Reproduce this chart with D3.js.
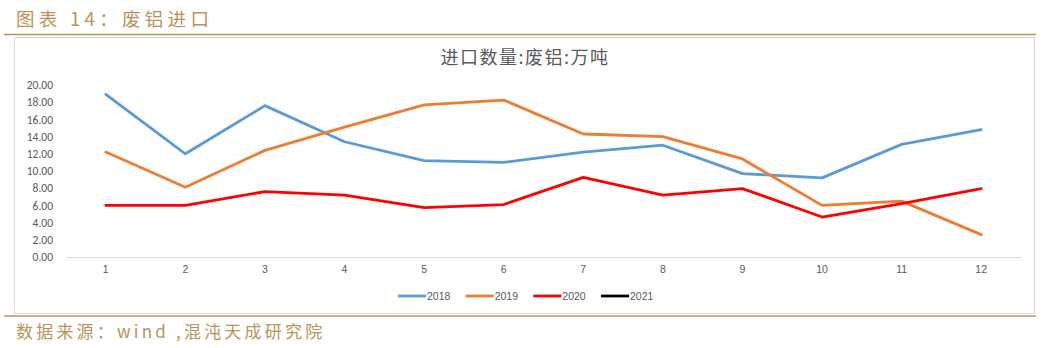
<!DOCTYPE html>
<html><head><meta charset="utf-8">
<script src="https://cdn.jsdelivr.net/npm/d3@7"></script>
<style>
html,body{margin:0;padding:0;background:#fff;}
svg{display:block;}
</style></head>
<body>
<svg id="c" width="1050" height="348"></svg>
<script>
const months = ["1","2","3","4","5","6","7","8","9","10","11","12"];
const yTicks = [0,2,4,6,8,10,12,14,16,18,20];
const seriesNames = ["2018","2019","2020","2021"];
const seriesColors = ["#5b9bd5","#ed7d31","#ff0000","#000000"];
const v2018 = [18.9,12.0,17.6,13.4,11.2,11.0,12.2,13.0,9.7,9.2,13.1,14.8];
const v2019 = [12.2,8.1,12.4,15.1,17.7,18.25,14.3,14.0,11.4,6.0,6.5,2.6];
const v2020 = [6.0,6.0,7.6,7.2,5.75,6.1,9.25,7.2,7.95,4.65,6.2,7.95];
const v2021 = [];
const headerText = "图表 14：废铝进口";
const chartTitle = "进口数量:废铝:万吨";
const sourceText = "数据来源：wind ,混沌天成研究院";

const svg = d3.select("#c");
const gold = "#b8945a";
const cjk = "'Noto Sans CJK SC','Noto Sans',sans-serif";

svg.append("text").attr("x",16).attr("y",26).attr("fill",gold)
  .attr("font-family",cjk).attr("font-size",18.5).attr("letter-spacing",4.3).text(headerText);
svg.append("line").attr("x1",4).attr("x2",1036).attr("y1",34.5).attr("y2",34.5)
  .attr("stroke",gold).attr("stroke-width",1.5);
svg.append("rect").attr("x",14.5).attr("y",37.5).attr("width",1020).attr("height",276)
  .attr("fill","#fff").attr("stroke","#d9d9d9").attr("stroke-width",1);
svg.append("line").attr("x1",4).attr("x2",1036).attr("y1",316).attr("y2",316)
  .attr("stroke",gold).attr("stroke-width",1.5);
svg.append("text").attr("x",16).attr("y",338).attr("fill",gold)
  .attr("font-family",cjk).attr("font-size",17).attr("letter-spacing",3.2).text(sourceText);

svg.append("text").attr("x",525).attr("y",64).attr("text-anchor","middle")
  .attr("fill","#595959").attr("font-family",cjk).attr("font-size",18).attr("letter-spacing",1.5).text(chartTitle);

const x = d3.scaleBand().domain(months).range([66,1021]);
const y = d3.scaleLinear().domain([0,20]).range([257,85]);

const yAxis = svg.append("g").attr("transform","translate(53,0)")
  .call(d3.axisLeft(y).tickValues(yTicks).tickFormat(d3.format(".2f")).tickSize(0).tickPadding(0));
yAxis.select(".domain").remove();
yAxis.selectAll("text").attr("fill","#595959").attr("font-family","Calibri,'Carlito','Liberation Sans',sans-serif").attr("font-size",11.5);

const xAxis = svg.append("g").attr("transform","translate(0,257)")
  .call(d3.axisBottom(x).tickSize(0).tickPadding(9));
xAxis.select(".domain").attr("stroke","#d9d9d9");
xAxis.selectAll("text").attr("fill","#595959").attr("font-family","'Liberation Sans',sans-serif").attr("font-size",10.5);

const allSeries = [v2018,v2019,v2020,v2021];
const line = d3.line().x((d,i)=>x(months[i])+x.bandwidth()/2).y(d=>y(d));
allSeries.forEach((vals,k)=>{
  if(!vals.length) return;
  svg.append("path").datum(vals).attr("d",line).attr("fill","none")
    .attr("stroke",seriesColors[k]).attr("stroke-width",2.8).attr("stroke-linejoin","round").attr("stroke-linecap","round");
});

const leg = svg.append("g");
const legX = d3.scalePoint().domain(seriesNames).range([398,601]);
seriesNames.forEach((n,k)=>{
  const lx = legX(n);
  leg.append("line").attr("x1",lx).attr("x2",lx+28).attr("y1",296).attr("y2",296)
    .attr("stroke",seriesColors[k]).attr("stroke-width",2.8);
  leg.append("text").attr("x",lx+29).attr("y",300).attr("fill","#595959")
    .attr("font-family","'Liberation Sans',sans-serif").attr("font-size",10.5).text(n);
});
</script>
</body></html>
